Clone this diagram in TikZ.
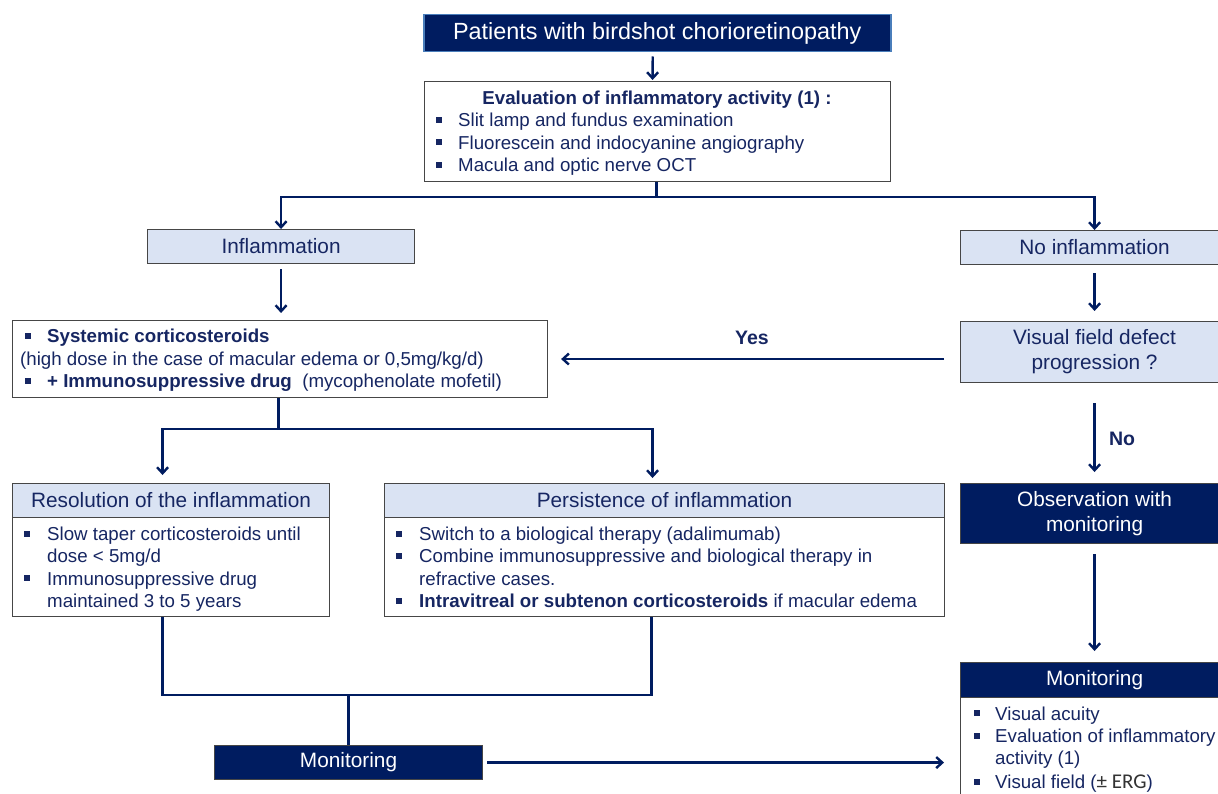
\documentclass[tikz,border=0pt]{standalone}
\usepackage{fontspec}
\setmainfont{Liberation Sans}
\newfontfamily\carlito{Carlito}
\usetikzlibrary{arrows.meta,calc}
\definecolor{navy}{RGB}{0,28,96}
\definecolor{tnavy}{RGB}{22,38,98}
\definecolor{lblue}{RGB}{218,227,243}
\definecolor{bgray}{RGB}{70,70,70}
\definecolor{pborder}{RGB}{74,126,187}
\newcommand\bsq{\textcolor{tnavy}{\rule[0.2em]{0.32em}{0.32em}}}
\newcommand\itm[1][22pt]{\makebox[#1][l]{\bsq}}
\newcommand\cnt[1][22pt]{\hspace*{#1}}
\begin{document}
\begin{tikzpicture}[x=1pt,y=-1pt,
  box/.style={draw=bgray,line width=1.1pt,rectangle,inner sep=0pt,anchor=north west},
  lbbox/.style={box,fill=lblue,text=tnavy,font=\fontsize{20.8}{25}\selectfont},
  nvbox/.style={box,fill=navy,text=white,font=\fontsize{20.8}{25}\selectfont,align=center},
  wbox/.style={box,fill=white},
  body/.style={text=tnavy,font=\fontsize{18.7}{22.3}\selectfont,align=left,anchor=base west,inner sep=0pt},
  lbl/.style={text=tnavy,font=\bfseries\fontsize{19.5}{22}\selectfont,inner sep=0pt},
  conn/.style={draw=navy,line width=2.4pt},
  arr/.style={conn,-{Straight Barb[length=6pt,width=11pt]}}]
\useasboundingbox (0,0) rectangle (1218,794);
\clip (0,0) rectangle (1218,794);
\fill[white] (0,0) rectangle (1218,794);

% top
\node[box,fill=navy,draw=pborder,line width=1.5pt,minimum width=467pt,minimum height=37pt,text=white,font=\fontsize{23.4}{28}\selectfont] (pat) at (423,14) {Patients with birdshot chorioretinopathy};
\node[wbox,minimum width=466pt,minimum height=100pt] (ev) at (424,81) {};
\node[body,font=\bfseries\fontsize{18.7}{22.3}\selectfont,anchor=base] (evt) at (657,104.5) {Evaluation of inflammatory activity (1) :};
\node[body] (evl) at (436,171.5) {\itm Slit lamp and fundus examination\\ \itm Fluorescein and indocyanine angiography\\ \itm Macula and optic nerve OCT};

% level 2
\node[lbbox,minimum width=267pt,minimum height=34pt] (inf) at (147,229) {Inflammation};
\node[lbbox,minimum width=268pt,minimum height=34pt] (noi) at (960,230) {No inflammation};

% systemic
\node[wbox,minimum width=535pt,minimum height=77pt] (sys) at (12,320) {};
\node[body] (sysl) at (20,387.5) {\cnt[5pt]\itm\textbf{Systemic corticosteroids}\\ (high dose in the case of macular edema or 0,5mg/kg/d)\\ \cnt[5pt]\itm\textbf{+ Immunosuppressive drug}\ \ (mycophenolate mofetil)};

% visual field
\node[lbbox,minimum width=268pt,minimum height=61pt,align=center] (vis) at (960,321) {Visual field defect\\progression ?};
\node[nvbox,minimum width=268pt,minimum height=60pt] (obs) at (960,483) {Observation with\\monitoring};

% right monitoring
\node[wbox,minimum width=268pt,minimum height=130pt] (mrb) at (960,697) {};
\node[nvbox,minimum width=268pt,minimum height=35pt] (mrh) at (960,662) {Monitoring};
\node[body] (mrl) at (974,788.5) {\itm[21pt]Visual acuity\\ \itm[21pt]Evaluation of inflammatory\\ \cnt[21pt]activity (1)\\[1.5pt] \itm[21pt]Visual field ({\carlito\fontsize{21}{22}\selectfont\color{black!80}±\ ERG})};

% resolution / persistence
\node[wbox,minimum width=317pt,minimum height=133pt] (res) at (12,483) {};
\node[lbbox,minimum width=317pt,minimum height=34pt] (resh) at (12,483) {Resolution of the inflammation};
\node[body] (resl) at (24,607.5) {\itm[23pt]Slow taper corticosteroids until\\ \cnt[23pt]dose < 5mg/d\\ \itm[23pt]Immunosuppressive drug\\ \cnt[23pt]maintained 3 to 5 years};

\node[wbox,minimum width=560pt,minimum height=133pt] (pers) at (384,483) {};
\node[lbbox,minimum width=560pt,minimum height=34pt] (persh) at (384,483) {Persistence of inflammation};
\node[body] (persl) at (396,607.5) {\itm[23pt]Switch to a biological therapy (adalimumab)\\ \itm[23pt]Combine immunosuppressive and biological therapy in\\ \cnt[23pt]refractive cases.\\ \itm[23pt]\textbf{Intravitreal or subtenon corticosteroids} if macular edema};

% bottom monitoring
\node[nvbox,minimum width=268pt,minimum height=34pt] (mnl) at (214,745) {Monitoring};

% labels
\node[lbl] (yes) at (752,338) {Yes};
\node[lbl] (no) at (1122,439) {No};

% connectors
\draw[arr,shorten <=4pt,shorten >=1pt] ($(pat.south)+(-4.5,0)$) -- ($(ev.north)+(-5,0)$);
\draw[conn] ($(ev.south)+(-1,0)$) -- ++(0,15) coordinate (s1);
\draw[arr] (s1) -| (inf.north);
\draw[arr] (s1) -| (noi.north);
\draw[arr,shorten <=5pt,shorten >=7pt] (inf.south) -- (inf.south |- sys.north);
\draw[arr,shorten <=8pt,shorten >=10pt] (noi.south) -- (vis.north);
\draw[arr] ($(vis.west |- sys.east)+(-16,0)$) -- ($(sys.east)+(13,0)$);
\draw[arr,shorten <=20pt,shorten >=11pt] (vis.south) -- (obs.north);
\draw[arr,shorten <=10pt,shorten >=11pt] (obs.south) -- (mrh.north);
\draw[conn] ($(sys.south)+(-1.5,0)$) -- ++(0,31) coordinate (s2);
\draw[arr,shorten >=8pt] (s2) -| ($(res.north)+(-8.5,0)$);
\draw[arr,shorten >=5pt] (s2) -| ($(pers.north)+(-12,0)$);
\draw[conn] ($(res.south)+(-8.5,0)$) -- ++(0,78) coordinate (m1) -| ($(pers.south)+(-13,0)$);
\draw[conn] (m1 -| mnl.north) -- (mnl.north);
\draw[arr,shorten <=4pt] (mnl.east) -- ($(mrb.west |- mnl.east)+(-16,0)$);
\end{tikzpicture}
\end{document}
